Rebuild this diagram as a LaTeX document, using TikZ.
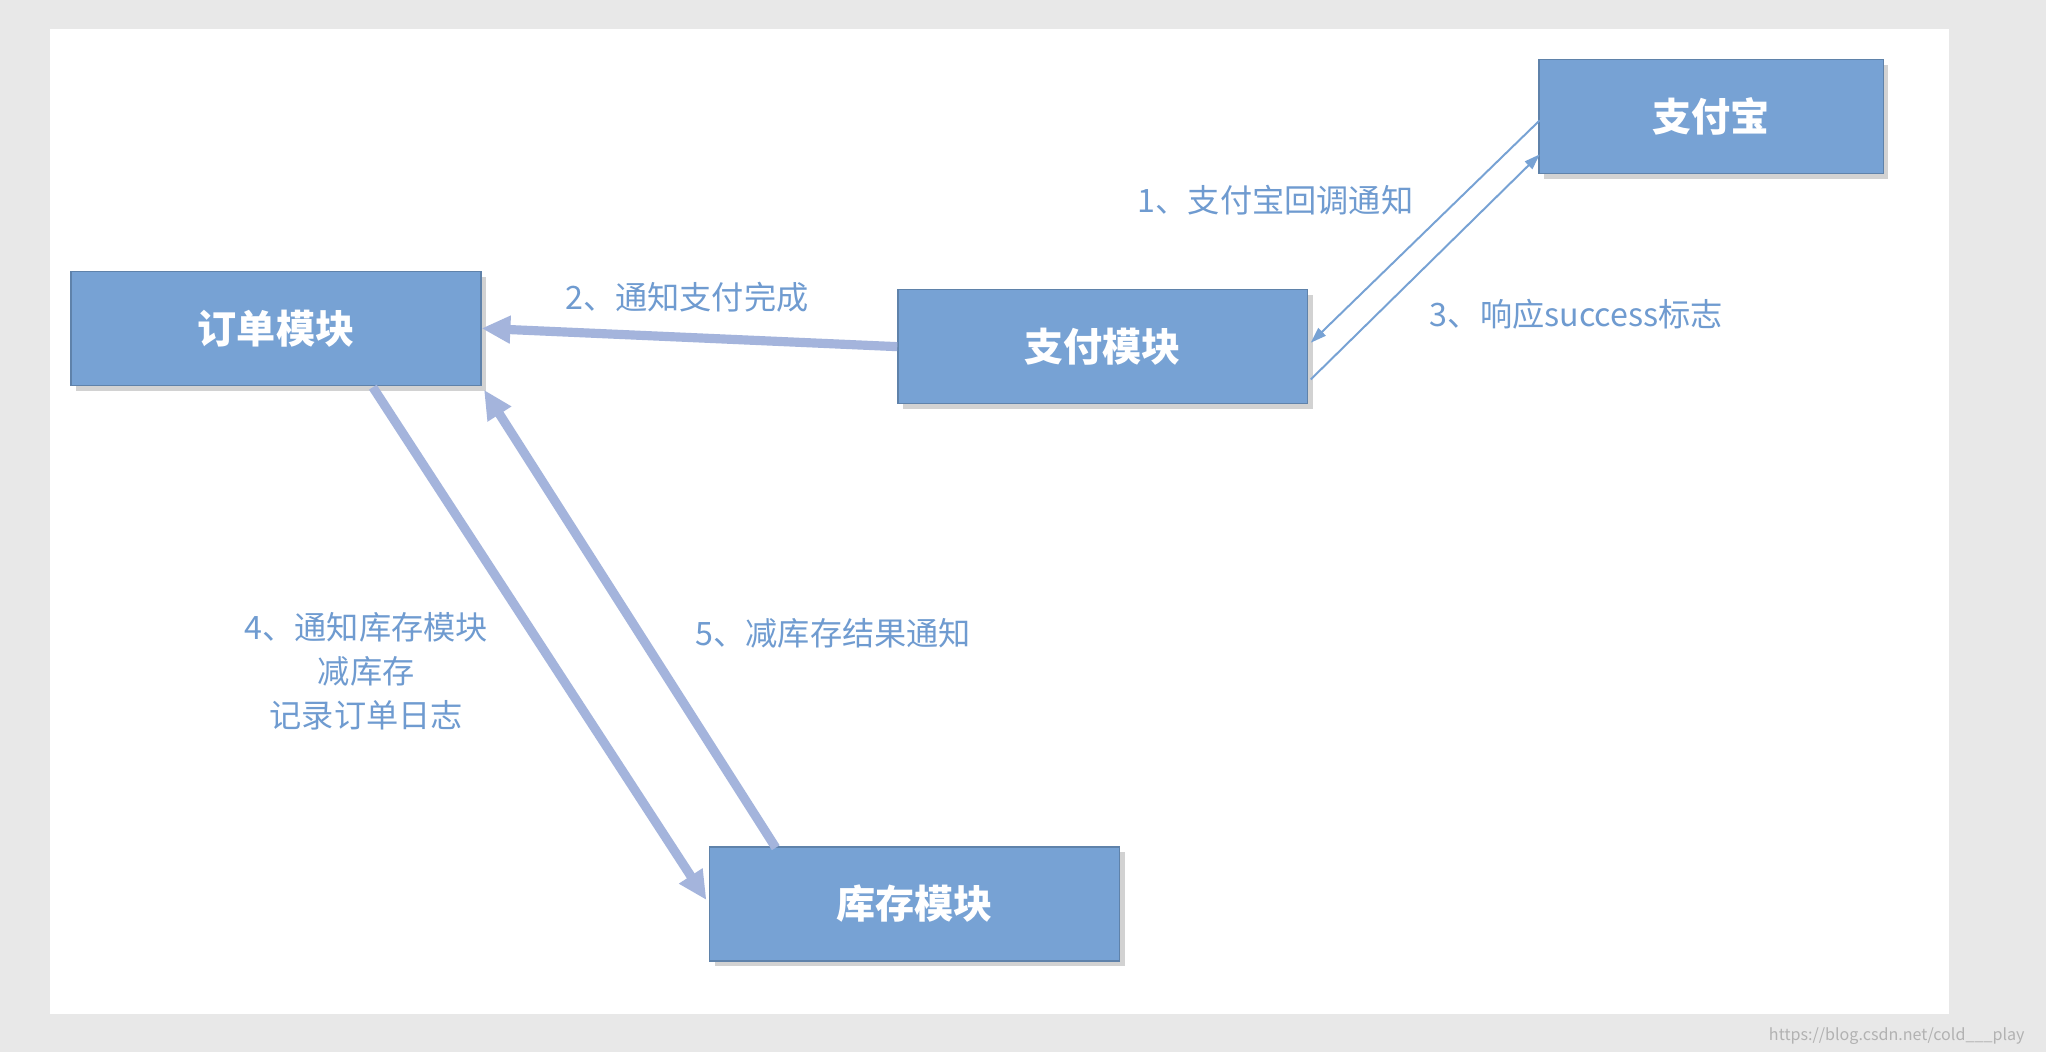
\documentclass[tikz,border=0pt]{standalone}
\usepackage{fontspec}
\setmainfont{Noto Sans CJK SC}
\usetikzlibrary{arrows.meta,shadows}
\definecolor{boxc}{HTML}{77A2D4}
\definecolor{lab}{HTML}{6F9BD0}
\definecolor{arr}{HTML}{A4B4DC}
\tikzset{
 mod/.style={fill=boxc,draw=boxc!80!black,line width=0.3pt,minimum width=3.13cm,minimum height=0.87cm,text=white,font=\fontsize{8.5}{10}\selectfont\bfseries,drop shadow={shadow xshift=0.04cm,shadow yshift=-0.04cm,opacity=0.35}},
 lbl/.style={text=lab,font=\fontsize{7}{9.5}\selectfont,align=center},
 thick arrow/.style={draw=arr,line width=0.07cm,-{Triangle[length=0.22cm,width=0.2cm]}},
 thin arrow/.style={draw=boxc,line width=0.015cm,-{Triangle[length=0.12cm,width=0.08cm]}}
}
\begin{document}
\begin{tikzpicture}[x=0.01cm,y=-0.01cm]
\useasboundingbox (0,0) rectangle (1564,804);
\fill[gray!18] (0,0) rectangle (1564,804);
\fill[white] (38,22) rectangle (1490,775);
\node[mod] (order) at (211,251) {订单模块};
\node[mod] (pay) at (843,265) {支付模块};
\node[mod,minimum width=2.63cm] (ali) at (1308,89) {支付宝};
\node[mod] (stock) at (699,691) {库存模块};
\coordinate (a1) at (1177,92);
\coordinate (p1) at (1002,262);
\coordinate (p3) at (1002,290);
\coordinate (a3) at (1177,118);
\draw[thin arrow] (a1) -- (p1);
\draw[thin arrow] (p3) -- (a3);
\draw[thick arrow] (pay.west) -- (order.east);
\coordinate (o4) at (285,296);
\coordinate (s4) at (540,688);
\coordinate (s5) at (593,648);
\coordinate (o5) at (370,298);
\draw[thick arrow] (o4) -- (s4);
\draw[thick arrow] (s5) -- (o5);
\node[lbl] (l1) at (975,153) {1、支付宝回调通知};
\node[lbl] (l2) at (525,227) {2、通知支付完成};
\node[lbl] (l3) at (1205,240) {3、响应success标志};
\node[lbl] (l4) at (280,513) {4、通知库存模块\\减库存\\记录订单日志};
\node[lbl] (l5) at (637,484) {5、减库存结果通知};
\node[text=gray!60,font=\fontsize{3.5}{4}\selectfont,anchor=east] (wm) at (1560,792) {https://blog.csdn.net/cold\_\_\_play};
\end{tikzpicture}
\end{document}
